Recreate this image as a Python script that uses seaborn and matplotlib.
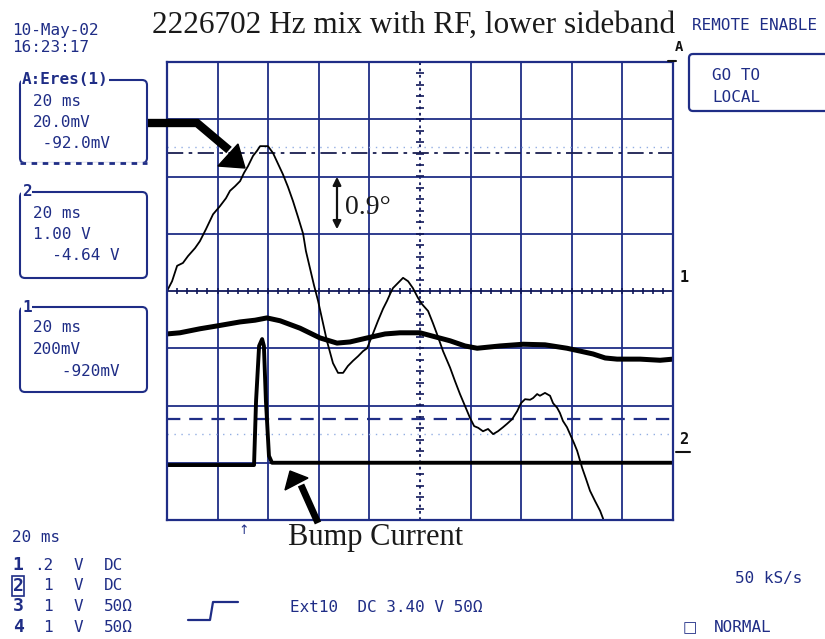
import numpy as np
import matplotlib
matplotlib.use('Agg')
import matplotlib.pyplot as plt
import seaborn as sns
from matplotlib.patches import FancyBboxPatch, Polygon

# Traces: time in ms (20 ms/div), amplitude in divisions
eres_t = [0, 2.0, 4.0, 6.3, 8.3, 11.1, 13.0, 15.4, 18.2, 20.9,
          23.3, 24.9, 26.9, 28.9, 30.4, 32.0, 34.0, 35.6, 36.8, 38.3,
          39.9, 41.9, 43.9, 45.8, 47.8, 49.8, 51.8, 53.8, 54.9, 56.5,
          58.1, 59.7, 61.3, 63.2, 65.6, 67.6, 69.6, 71.5, 73.5, 75.5,
          77.5, 79.1, 81.0, 83.4, 85.4, 87.0, 88.2, 89.3, 91.3, 93.3,
          95.3, 97.2, 99.2, 100.8, 103.2, 105.1, 106.7, 109.1, 111.9, 113.8,
          115.8, 117.8, 119.8, 121.4, 123.0, 124.9, 126.9, 128.9, 130.8, 132.8,
          134.4, 136.4, 138.4, 139.9, 141.5, 143.5, 144.7, 146.3, 147.4, 149.4,
          151.4, 152.6, 154.2, 155.3, 156.5, 158.1, 159.3, 160.9, 162.1, 163.3,
          164.1, 165.6, 167.2, 169.2, 171.2, 172.4]
eres_div = [0, 0.17, 0.44, 0.49, 0.61, 0.75, 0.87, 1.08, 1.34, 1.48,
            1.62, 1.75, 1.83, 1.92, 2.06, 2.18, 2.36, 2.45, 2.53, 2.53,
            2.53, 2.41, 2.22, 2.04, 1.82, 1.57, 1.29, 1.00, 0.70, 0.40,
            0.10, -0.17, -0.49, -0.87, -1.26, -1.43, -1.43, -1.31, -1.22, -1.14,
            -1.05, -1.00, -0.79, -0.52, -0.31, -0.17, -0.05, 0.05, 0.14, 0.23,
            0.17, 0.05, -0.12, -0.23, -0.35, -0.56, -0.75, -1.05, -1.34, -1.57,
            -1.80, -2.01, -2.22, -2.36, -2.39, -2.45, -2.41, -2.50, -2.45, -2.38,
            -2.32, -2.24, -2.10, -1.96, -1.89, -1.90, -1.87, -1.80, -1.83, -1.78,
            -1.83, -1.96, -2.04, -2.13, -2.27, -2.38, -2.50, -2.66, -2.79, -2.97,
            -3.09, -3.28, -3.49, -3.67, -3.84, -3.98]

ch1_t = [0, 5.1, 13.0, 19.8, 28.9, 34.8, 39.5, 44.7, 52.6, 60.5,
         67.2, 72.3, 79.1, 86.2, 92.1, 100.0, 105.1, 111.9, 117.8, 122.6,
         131.6, 140.7, 149.4, 158.1, 163.3, 168.4, 173.2, 177.9, 187.0, 194.9, 200.0]
ch1_div = [-0.75, -0.73, -0.66, -0.61, -0.54, -0.51, -0.47, -0.52, -0.65, -0.82,
           -0.91, -0.89, -0.82, -0.75, -0.73, -0.73, -0.79, -0.87, -0.96, -1.00,
           -0.96, -0.93, -0.94, -1.00, -1.05, -1.10, -1.17, -1.19, -1.19, -1.21, -1.19]

bump_t = [0, 34.4, 35.2, 36.4, 37.6, 38.3, 39.1, 40.3, 41.5, 200.0]
bump_div = [-3.04, -3.04, -1.92, -0.96, -0.84, -0.96, -1.92, -2.88, -3.00, -3.00]

# cursor / reference levels (divisions)
ref_a_level = 2.41
ref_a_light = 2.52
ref_2_level = -2.24
ref_2_light = -2.50

title = '2226702 Hz mix with RF, lower sideband'
date_lines = ['10-May-02', '16:23:17']
box_lines = [['20 ms', '20.0mV', ' -92.0mV'],
             ['20 ms', '1.00 V', '  -4.64 V'],
             ['20 ms', '200mV', '   -920mV']]
box_labels = ['A:Eres(1)', '2', '1']
chan_ids = ['1', '2', '3', '4']
chan_scale = ['.2', '1', '1', '1']
chan_coupling = ['DC', 'DC', '50Ω', '50Ω']

sns.set_style('white')
plt.rcParams['font.family'] = ['DejaVu Sans']

BLUE = '#1f2d86'
DARK = '#10185a'
LIGHT = '#93aee3'
MONO = 'DejaVu Sans Mono'
SERIF = 'Liberation Serif'
W, H = 825, 639

fig = plt.figure(figsize=(8.25, 6.39), dpi=100)

# scope graticule
ax = fig.add_axes([167 / W, 1 - 520 / H, (673 - 167) / W, (520 - 62) / H])
ax.set_xlim(0, 200)
ax.set_ylim(-4, 4)
ax.set_xticks([])
ax.set_yticks([])
for s in ax.spines.values():
    s.set_color(BLUE)
    s.set_linewidth(1.6)
for xv in np.arange(20, 200, 20):
    if xv == 100:
        ax.axvline(xv, color=DARK, lw=1.3, ls=(0, (1.5, 2)))
    else:
        ax.axvline(xv, color=BLUE, lw=1.3)
for yv in range(-3, 4):
    if yv == 0:
        ax.axhline(yv, color=DARK, lw=1.3)
    else:
        ax.axhline(yv, color=BLUE, lw=1.3)

# minor ticks on the centre lines
ax.plot(np.arange(0, 200.1, 4), np.zeros(51), ls='none', marker='|', ms=5, mew=1.2, color=DARK)
ax.plot(np.full(41, 100), np.arange(-4, 4.01, 0.2), ls='none', marker='_', ms=6, mew=1.2, color=DARK)

# cursor lines
ax.axhline(ref_a_light, color=LIGHT, lw=1.0, ls=(0, (1, 4)))
ax.axhline(ref_a_level, color='#1a1f50', lw=1.3, ls=(0, (9, 3, 2, 3)))
ax.axhline(ref_2_level, color=BLUE, lw=1.6, ls=(0, (6, 4)))
ax.axhline(ref_2_light, color=LIGHT, lw=1.0, ls=(0, (1, 4)))

# traces
sns.lineplot(x=ch1_t, y=ch1_div, ax=ax, color='black', lw=3.6, estimator=None, sort=False)
sns.lineplot(x=bump_t, y=bump_div, ax=ax, color='black', lw=2.8, estimator=None, sort=False)
sns.lineplot(x=eres_t, y=eres_div, ax=ax, color='black', lw=1.3, estimator=None, sort=False)

# overlay in pixel coordinates for the screen text and annotations
ov = fig.add_axes([0, 0, 1, 1], zorder=5)
ov.set_xlim(0, W)
ov.set_ylim(H, 0)
ov.axis('off')
ov.patch.set_alpha(0)

ov.text(414, 25, title, family=SERIF, fontsize=22.5, ha='center', va='center', color='#1a1a1a')

mono = dict(family=MONO, fontsize=11.5, color=BLUE, va='center')
ov.text(12, 30, date_lines[0], **mono)
ov.text(12, 47, date_lines[1], **mono)

# left info boxes
box_y = [(80, 163), (192, 278), (307, 392)]
for (y0, y1), lines, lab in zip(box_y, box_lines, box_labels):
    ov.add_patch(FancyBboxPatch((20, y0), 127, y1 - y0, boxstyle='round,pad=0,rounding_size=5',
                                fill=False, ec=BLUE, lw=1.5))
    ov.text(22, y0, lab, family=MONO, fontsize=11.5, color=BLUE, va='center', fontweight='bold',
            bbox=dict(fc='white', ec='none', pad=0.5))
    for k, ln in enumerate(lines):
        ov.text(33, y0 + 21 + 21.5 * k, ln, **mono)
ov.plot([20, 147], [163, 163], color='white', lw=2)
ov.plot([20, 147], [163, 163], color=BLUE, lw=2, ls=(0, (2, 2)))

# right side
ov.text(692, 26, 'REMOTE ENABLE', **mono)
ov.add_patch(FancyBboxPatch((689, 54), 145, 57, boxstyle='round,pad=0,rounding_size=4',
                            fill=False, ec=BLUE, lw=1.6))
ov.text(712, 75, 'GO TO', **mono)
ov.text(712, 97, 'LOCAL', **mono)
ov.text(679, 47, 'A', family=MONO, fontsize=10, color='#111111', va='center', ha='center', fontweight='bold')
ov.plot([668, 676], [61, 61], color='#111111', lw=1.5)
ov.text(684, 277, '1', family=MONO, fontsize=11, color='#111111', va='center', ha='center', fontweight='bold')
ov.text(684, 440, '2', family=MONO, fontsize=11, color='#111111', va='center', ha='center', fontweight='bold')
ov.plot([676, 690], [452, 452], color='#111111', lw=1.5)
ov.text(244, 530, '↑', family='DejaVu Sans', fontsize=9, color=BLUE, ha='center', va='center')

# bottom status lines
ov.text(12, 538, '20 ms', **mono)
for k in range(4):
    yy = 565 + 20.7 * k
    ov.text(18, yy, chan_ids[k], family=MONO, fontsize=13, color=BLUE, va='center', ha='center', fontweight='bold')
    ov.text(53, yy, chan_scale[k], family=MONO, fontsize=11.5, color=BLUE, va='center', ha='right')
    ov.text(78, yy, 'V', family=MONO, fontsize=11.5, color=BLUE, va='center', ha='center')
    ov.text(104, yy, chan_coupling[k], family=MONO, fontsize=11.5, color=BLUE, va='center')
ov.add_patch(FancyBboxPatch((12, 576), 12, 20, boxstyle='square,pad=0', fill=False, ec=BLUE, lw=1.2))
ov.plot([188, 210, 213, 238], [620, 620, 602, 602], color=BLUE, lw=1.6)
ov.text(290, 608, 'Ext10  DC 3.40 V 50Ω', **mono)
ov.text(735, 578, '50 kS/s', **mono)
ov.text(683, 628, '□', family='DejaVu Sans', fontsize=11, color=BLUE, va='center')
ov.text(714, 628, 'NORMAL', **mono)

# annotations
ov.plot([148, 197, 229], [123, 123, 150], color='black', lw=6, solid_joinstyle='miter', solid_capstyle='butt')
ov.add_patch(Polygon([[218, 166], [238, 144], [245, 168]], closed=True, color='black'))
ov.plot([318, 301], [523, 485], color='black', lw=5, solid_capstyle='butt')
ov.add_patch(Polygon([[285, 490], [308, 478], [290, 471]], closed=True, color='black'))

ov.annotate('', xy=(337, 174), xytext=(337, 232),
            arrowprops=dict(arrowstyle='<|-|>', color='#111111', lw=1.6, mutation_scale=12))
ov.text(345, 207, '0.9°', family=SERIF, fontsize=20, color='#1a1a1a', va='center')
ov.text(288, 538, 'Bump Current', family=SERIF, fontsize=22, color='#1a1a1a', va='center')

fig.savefig('out.png', dpi=100, facecolor='white')
